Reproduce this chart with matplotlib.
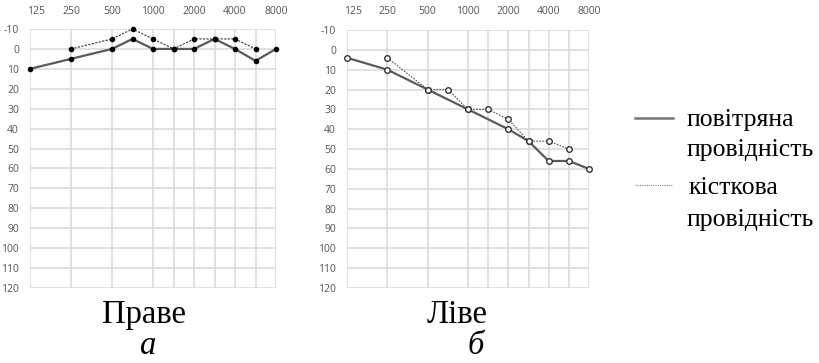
import matplotlib
matplotlib.use('Agg')
import matplotlib.pyplot as plt
import matplotlib.transforms as mtransforms
from matplotlib.lines import Line2D

plt.rcParams["axes.unicode_minus"] = False

# audiometric frequencies, placed on an even half-octave grid
freqs = [125, 250, 500, 750, 1000, 1500, 2000, 3000, 4000, 6000, 8000]
freq_pos = [0, 2, 4, 5, 6, 7, 8, 9, 10, 11, 12]
grid_pos = [0, 2, 4, 6, 7, 8, 9, 10, 11, 12]
tick_pos = [0, 2, 4, 6, 8, 10, 12]
tick_labels = ["125", "250", "500", "1000", "2000", "4000", "8000"]
db_ticks = list(range(-10, 130, 10))

# right ear (a)
right_air_f = [125, 250, 500, 750, 1000, 1500, 2000, 3000, 4000, 6000, 8000]
right_air = [10, 5, 0, -5, 0, 0, 0, -5, 0, 6, 0]
right_bone_f = [250, 500, 750, 1000, 1500, 2000, 3000, 4000, 6000]
right_bone = [0, -5, -10, -5, 0, -5, -5, -5, 0]

# left ear (b)
left_air_f = [125, 250, 500, 1000, 2000, 3000, 4000, 6000, 8000]
left_air = [4, 10, 20, 30, 40, 46, 56, 56, 60]
left_bone_f = [250, 500, 750, 1000, 1500, 2000, 3000, 4000, 6000]
left_bone = [4, 20, 20, 30, 30, 35, 46, 46, 50]

W, H = 819, 363
fig = plt.figure(figsize=(W / 100, H / 100), dpi=100)
fig.patch.set_facecolor("white")

pos = dict(zip(freqs, freq_pos))


def setup(ax):
    ax.set_xlim(0, 12)
    ax.set_ylim(120, -10)
    ax.set_xticks(tick_pos)
    ax.set_xticklabels(tick_labels)
    ax.set_yticks(db_ticks)
    ax.xaxis.tick_top()
    ax.tick_params(length=0)
    ax.tick_params(axis="x", pad=9, labelsize=7.5, labelcolor="#555555")
    ax.tick_params(axis="y", pad=8, labelsize=7.5, labelcolor="#555555")
    for lbl in ax.get_xticklabels() + ax.get_yticklabels():
        lbl.set_family("Open Sans")
    # first frequency label sits a little to the right of its grid line
    first = ax.get_xticklabels()[0]
    first.set_transform(first.get_transform() +
                        mtransforms.ScaledTranslation(4 / 72, 0, fig.dpi_scale_trans))
    for g in grid_pos:
        ax.axvline(g, color="#d9d9d9", lw=1.1, zorder=0)
    for d in db_ticks:
        ax.axhline(d, color="#d9d9d9", lw=1.1, zorder=0)
    for s in ax.spines.values():
        s.set_visible(False)


ax1 = fig.add_axes([30 / W, 1 - 288 / H, 246 / W, 259 / H])
setup(ax1)
ax1.plot([pos[f] for f in right_air_f], right_air, color="#5a5a5a", lw=1.6,
         marker="o", ms=3, mfc="black", mec="black", clip_on=False)
ax1.plot([pos[f] for f in right_bone_f], right_bone, color="#333333", lw=0.8,
         ls=(0, (2, 1.2)), marker="o", ms=3, mfc="black", mec="black", clip_on=False)

ax2 = fig.add_axes([347 / W, 1 - 288 / H, 242 / W, 258 / H])
setup(ax2)
ax2.plot([pos[f] for f in left_air_f], left_air, color="#5a5a5a", lw=1.6,
         marker="o", ms=4, mfc="white", mec="#333333", mew=1, clip_on=False)
ax2.plot([pos[f] for f in left_bone_f], left_bone, color="#555555", lw=0.8,
         ls=(0, (1.5, 1.2)), marker="o", ms=4, mfc="white", mec="#333333", mew=1, clip_on=False)

# legend drawn by hand at the right
fig.add_artist(Line2D([635 / W, 673 / W], [1 - 118 / H, 1 - 118 / H],
                      color="#777777", lw=1.8))
fig.add_artist(Line2D([635 / W, 673 / W], [1 - 185 / H, 1 - 185 / H],
                      color="#888888", lw=0.8, ls=(0, (1, 1))))
serif = "Liberation Serif"
fs = 18.5
fig.text(687 / W, 1 - 120 / H, "повітряна", family=serif, fontsize=fs, va="center")
fig.text(687 / W, 1 - 150 / H, "провідність", family=serif, fontsize=fs, va="center")
fig.text(689 / W, 1 - 188 / H, "кісткова", family=serif, fontsize=fs, va="center")
fig.text(687 / W, 1 - 220 / H, "провідність", family=serif, fontsize=fs, va="center")

# captions
fig.text(144 / W, 1 - 315 / H, "Праве", family=serif, fontsize=23.5, ha="center", va="center")
fig.text(147 / W, 1 - 346 / H, "а", family=serif, fontsize=23.5, style="italic", ha="center", va="center")
fig.text(457 / W, 1 - 315 / H, "Ліве", family=serif, fontsize=23.5, ha="center", va="center")
fig.text(476 / W, 1 - 346 / H, "б", family=serif, fontsize=23.5, style="italic", ha="center", va="center")

plt.savefig("out.png", dpi=100)
